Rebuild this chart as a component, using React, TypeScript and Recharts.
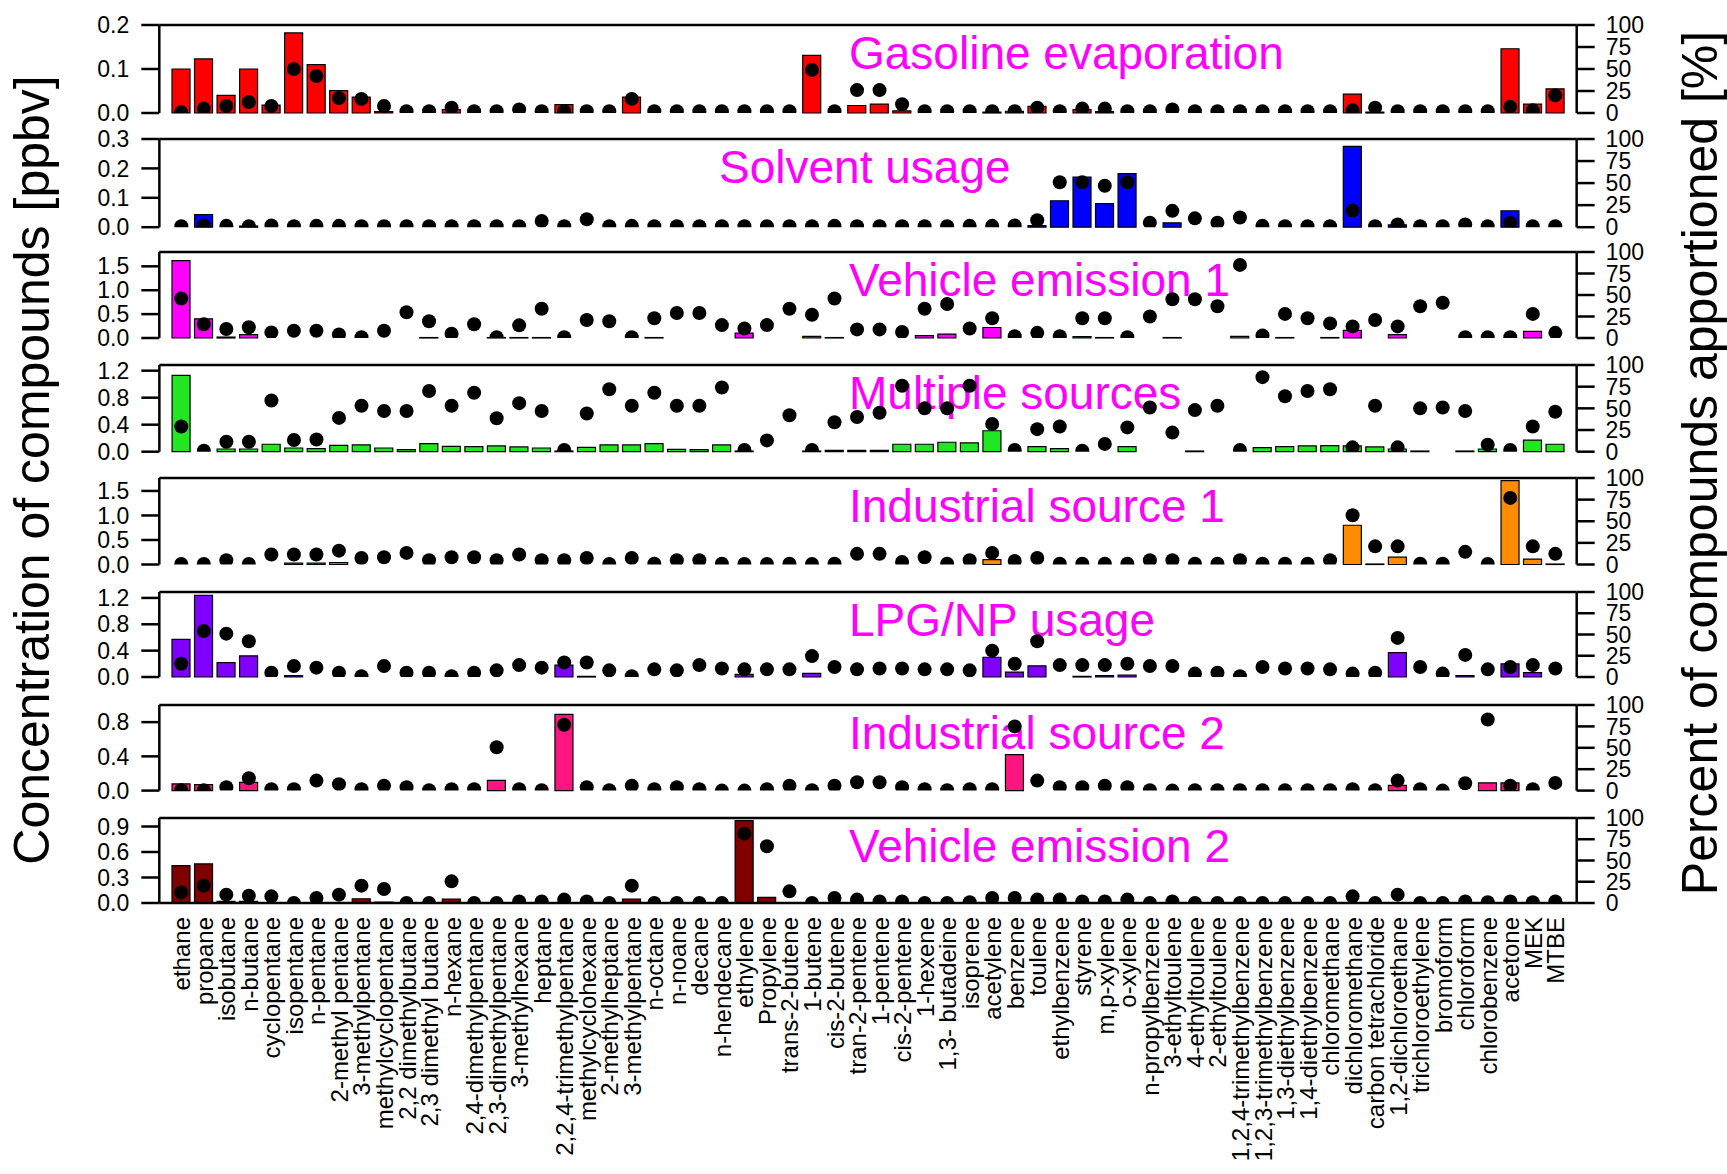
import React from 'react';
import { ComposedChart, Bar, Line, XAxis, YAxis, ReferenceLine } from 'recharts';

const FONT = '"Liberation Sans", Arial, Helvetica, sans-serif';

const compounds = [
  'ethane', 'propane', 'isobutane', 'n-butane', 'cyclopentane', 'isopentane', 'n-pentane',
  '2-methyl pentane', '3-methylpentane', 'methylcyclopentane', '2,2 dimethylbutane',
  '2,3 dimethyl butane', 'n-hexane', '2,4-dimethylpentane', '2,3-dimethylpentane',
  '3-methylhexane', 'heptane', '2,2,4-trimethylpentane', 'methylcyclohexane', '2-methylheptane',
  '3-methylpentane', 'n-octane', 'n-noane', 'decane', 'n-hendecane', 'ethylene', 'Propylene',
  'trans-2-butene', '1-butene', 'cis-2-butene', 'tran-2-pentene', '1-pentene', 'cis-2-pentene',
  '1-hexene', '1,3- butadeine', 'isoprene', 'acetylene', 'benzene', 'toulene', 'ethylbenzene',
  'styrene', 'm,p-xylene', 'o-xylene', 'n-propylbenzene', '3-ethyltoulene', '4-ethyltoulene',
  '2-ethyltoulene', '1,2,4-trimethylbenzene', '1,2,3-trimethylbenzene', '1,3-diethylbenzene',
  '1,4-diethylbenzene', 'chloromethane', 'dichloromethane', 'carbon tetrachloride',
  '1,2-dichloroethane', 'trichloroethylene', 'bromoform', 'chloroform', 'chlorobenzene',
  'acetone', 'MEK', 'MTBE',
];

// factor profiles: concentration [ppbv] and share of each compound [%]
const gasolineConc = [
  0.100, 0.123, 0.040, 0.100, 0.018, 0.182, 0.110, 0.051, 0.036, 0.003,
  0, 0, 0.008, 0, 0, 0, 0, 0.019, 0, 0,
  0.036, 0, 0, 0, 0, 0, 0, 0, 0.131, 0,
  0.017, 0.020, 0.005, 0, 0, 0, 0.002, 0.004, 0.015, 0,
  0.008, 0.003, 0, 0, 0, 0, 0, 0, 0, 0,
  0, 0, 0.043, 0.002, 0, 0, 0, 0, 0, 0.146,
  0.020, 0.055,
];
const gasolinePct = [
  1, 5, 8, 12.5, 8, 50, 42, 17, 16, 8,
  2, 2, 6, 2, 2, 4, 2, 2, 2, 2,
  16, 2, 2, 2, 2, 2, 2, 2, 49, 2,
  26, 26, 10, 2, 2, 2, 2, 2, 6, 2,
  5, 5, 2, 2, 4, 2, 2, 2, 2, 2,
  2, 2, 3, 6, 2, 2, 2, 2, 2, 7,
  3, 20,
];

const solventConc = [
  0, 0.043, 0, 0.004, 0, 0, 0, 0, 0, 0,
  0, 0, 0, 0, 0, 0, 0, 0, 0, 0,
  0, 0, 0, 0, 0, 0, 0, 0, 0, 0,
  0, 0, 0, 0, 0, 0, 0, 0, 0.005, 0.090,
  0.170, 0.080, 0.182, 0, 0.015, 0, 0, 0, 0, 0,
  0, 0, 0.275, 0, 0.008, 0, 0, 0, 0, 0.056,
  0, 0,
];
const solventPct = [
  1, 2, 1.5, 1, 2, 1, 1.5, 1.5, 1, 1,
  1, 1, 1, 1, 1, 1, 7, 1, 9, 1,
  1.5, 1, 1, 1, 1, 1, 1, 1, 1, 1.5,
  1, 1, 1, 1, 1, 1.5, 1.5, 2, 8, 51,
  51, 47, 51, 5, 18.5, 10, 5, 11, 1.5, 1,
  1, 1, 19, 1, 3, 1, 1, 3, 1, 5,
  1, 1,
];

const vehicle1Conc = [
  1.62, 0.40, 0.02, 0.07, 0, 0, 0, 0, 0, 0,
  0, 0.01, 0, 0, 0.01, 0.01, 0.01, 0, 0, 0,
  0, 0.01, 0, 0, 0, 0.10, 0, 0, 0.035, 0.01,
  0, 0, 0, 0.05, 0.08, 0, 0.22, 0, 0, 0,
  0.03, 0.01, 0, 0, 0.01, 0, 0, 0.035, 0, 0.01,
  0, 0.01, 0.16, 0, 0.07, 0, 0, 0, 0, 0,
  0.14, 0,
];
const vehicle1Pct = [
  46, 16, 10.5, 12.5, 6.5, 8.5, 8.5, 4, 1, 8.5,
  30, 19.5, 5, 16, 1, 14.7, 34, 1, 21, 19.5,
  1, 23, 29, 29, 15, 11, 15, 34, 27, 46,
  10, 10, 7, 34, 39.5, 11, 23, 2, 6, 2,
  23, 23, 1, 25, 45, 45, 37, 85, 3, 28,
  23, 17, 13.5, 21, 13.5, 37, 41, 1, 1, 1,
  28, 6,
];

const multipleConc = [
  1.13, 0, 0.04, 0.04, 0.11, 0.055, 0.045, 0.094, 0.10, 0.055,
  0.03, 0.12, 0.08, 0.075, 0.085, 0.07, 0.055, 0.01, 0.065, 0.10,
  0.10, 0.12, 0.035, 0.03, 0.10, 0.01, 0, 0, 0.01, 0.02,
  0.02, 0.02, 0.11, 0.11, 0.14, 0.13, 0.31, 0, 0.075, 0.045,
  0, 0, 0.075, 0, 0, 0.01, 0, 0, 0.06, 0.075,
  0.085, 0.09, 0.085, 0.07, 0.04, 0.01, 0, 0.01, 0.04, 0,
  0.17, 0.11,
];
const multiplePct = [
  29, 1, 11.5, 11.5, 59, 13.5, 14, 39, 53, 47,
  47, 70, 53, 68, 38.5, 56, 47, 2, 44, 72,
  53, 68, 53, 53, 74, 2, 13, 42, 2, 34,
  40, 45, 76, 50, 50, 76, 32, 2, 26, 29,
  1, 9, 28, 51, 22, 48, 53, 2, 86, 64,
  70, 72, 5, 53, 5, 50, 51, 47, 8, 2,
  29, 46,
];

const industrial1Conc = [
  0, 0, 0, 0, 0, 0.03, 0.03, 0.04, 0, 0,
  0, 0, 0, 0, 0, 0, 0, 0, 0, 0,
  0, 0, 0, 0, 0, 0, 0, 0, 0, 0,
  0, 0, 0, 0, 0, 0, 0.10, 0, 0, 0,
  0, 0, 0, 0, 0, 0, 0, 0, 0, 0,
  0, 0, 0.80, 0.01, 0.15, 0, 0, 0, 0, 1.71,
  0.11, 0.01,
];
const industrial1Pct = [
  0.5, 0.5, 5, 0.5, 11.5, 11.5, 11.5, 16, 7.5, 8.4,
  13.4, 5, 8.4, 8.4, 5, 11.5, 5, 5, 7.5, 0.5,
  7.5, 1, 5, 5, 1, 0.5, 0.5, 1, 0.5, 1,
  12.3, 12.3, 3, 8.4, 1, 5, 13.4, 4, 7.5, 1,
  1, 1, 1, 5, 5, 1, 1, 5, 1, 1,
  1, 5, 57, 21, 21, 1, 1, 14.6, 0.5, 77,
  21, 12.3,
];

const lpgConc = [
  0.57, 1.24, 0.217, 0.32, 0, 0.02, 0, 0, 0, 0,
  0, 0, 0, 0, 0, 0, 0, 0.18, 0.01, 0,
  0, 0, 0, 0, 0, 0.04, 0, 0, 0.055, 0,
  0, 0, 0, 0, 0, 0, 0.30, 0.075, 0.17, 0,
  0.01, 0.02, 0.03, 0, 0, 0, 0, 0, 0, 0,
  0, 0, 0, 0, 0.37, 0, 0, 0.02, 0, 0.20,
  0.065, 0,
];
const lpgPct = [
  15.6, 54, 51, 42, 5, 13, 11, 5, 1, 13,
  5, 5, 1, 5, 7.8, 14, 11, 17, 17, 7.8,
  1, 9, 7.8, 14, 10, 9, 9, 9, 24.6, 11.7,
  9, 10, 10, 9, 9, 7.8, 31, 15.6, 42, 14,
  14, 14, 15.6, 13, 13, 4, 5, 1, 11.7, 10,
  10, 9, 4, 5, 46, 11.7, 4, 26, 9, 11.7,
  14, 10,
];

const industrial2Conc = [
  0.078, 0.07, 0, 0.097, 0, 0, 0, 0, 0, 0,
  0, 0, 0, 0, 0.12, 0, 0, 0.89, 0, 0,
  0, 0, 0, 0, 0, 0, 0, 0, 0, 0,
  0, 0, 0, 0, 0, 0, 0, 0.42, 0, 0,
  0, 0, 0, 0, 0, 0, 0, 0, 0, 0,
  0, 0, 0, 0, 0.06, 0, 0, 0, 0.09, 0.09,
  0, 0,
];
const industrial2Pct = [
  0.5, 0.5, 4, 14.4, 1.7, 1.7, 11.7, 7.5, 1.7, 5.7,
  4, 0.5, 1.7, 1.7, 50.6, 1.7, 0.5, 77, 4, 0.5,
  5.7, 1.7, 4, 1.7, 0, 0, 1.7, 5.7, 0.5, 5.7,
  9.7, 9.7, 4, 1.7, 0.5, 1.7, 1.7, 75, 11.7, 4,
  4, 5.7, 4, 0.5, 0, 0.5, 0.5, 0.5, 0.5, 0.5,
  0.5, 0.5, 1.7, 0.5, 11.7, 1.7, 0, 8.6, 83, 5.7,
  1.7, 9,
];

const vehicle2Conc = [
  0.44, 0.46, 0.02, 0.02, 0, 0, 0, 0, 0.05, 0.01,
  0, 0, 0.047, 0, 0, 0, 0, 0, 0, 0,
  0.047, 0, 0, 0, 0, 0.97, 0.067, 0, 0, 0,
  0, 0, 0, 0, 0, 0, 0, 0, 0, 0,
  0, 0, 0, 0, 0, 0, 0, 0, 0, 0,
  0, 0, 0, 0, 0, 0, 0, 0, 0, 0,
  0, 0,
];
const vehicle2Pct = [
  12.5, 20.4, 9.8, 8.6, 7.8, 0, 6, 9.8, 20.4, 16.5,
  0, 0, 25.5, 0, 0, 1.7, 1.7, 4, 1.7, 0,
  20.4, 0, 0, 0, 0, 81.6, 66.7, 13.7, 0, 6,
  4, 1.7, 1.7, 0, 0, 1, 6, 6, 4, 4,
  1.7, 1.7, 4, 0, 1.7, 0, 0, 0, 0, 0,
  0, 0, 7.8, 0, 9.8, 0, 0, 1.7, 1, 1.7,
  1, 1.7,
];

const pctTicks = [0, 25, 50, 75, 100];

const panels = [
  { title: 'Gasoline evaporation', color: '#ff0000', max: 0.2, ticks: [0, 0.1, 0.2], conc: gasolineConc, pct: gasolinePct, top: 25.3, h: 88, titleX: 849 },
  { title: 'Solvent usage', color: '#0000ff', max: 0.3, ticks: [0, 0.1, 0.2, 0.3], conc: solventConc, pct: solventPct, top: 138.5, h: 88.2, titleX: 719 },
  { title: 'Vehicle emission 1', color: '#ff00ff', max: 1.8, ticks: [0, 0.5, 1.0, 1.5], conc: vehicle1Conc, pct: vehicle1Pct, top: 252, h: 86, titleX: 849 },
  { title: 'Multiple sources', color: '#22e622', max: 1.284, ticks: [0, 0.4, 0.8, 1.2], conc: multipleConc, pct: multiplePct, top: 365, h: 86.7, titleX: 849 },
  { title: 'Industrial source 1', color: '#ff8c00', max: 1.764, ticks: [0, 0.5, 1.0, 1.5], conc: industrial1Conc, pct: industrial1Pct, top: 477.5, h: 86.5, titleX: 849 },
  { title: 'LPG/NP usage', color: '#8000ff', max: 1.29, ticks: [0, 0.4, 0.8, 1.2], conc: lpgConc, pct: lpgPct, top: 592, h: 85, titleX: 849 },
  { title: 'Industrial source 2', color: '#ff1480', max: 1.0, ticks: [0, 0.4, 0.8], conc: industrial2Conc, pct: industrial2Pct, top: 704.7, h: 85.6, titleX: 849 },
  { title: 'Vehicle emission 2', color: '#800000', max: 1.0, ticks: [0, 0.3, 0.6, 0.9], conc: vehicle2Conc, pct: vehicle2Pct, top: 817.7, h: 85, titleX: 849 },
];

const WIDTH = 1727;
const PAD = 18;
const LABEL_H = 270;
const axisStroke = { stroke: '#000', strokeWidth: 2.5 };
const tickFont = { fill: '#000', fontSize: 23, fontFamily: FONT };

function CompoundTick({ x, y, payload }: any) {
  const tx = x + 9;
  const ty = y + 14;
  return (
    <text
      x={tx}
      y={ty}
      transform={`rotate(-90 ${tx} ${ty})`}
      textAnchor="end"
      fontSize={24}
      fontFamily={FONT}
      fill="#000"
    >
      {payload.value}
    </text>
  );
}

function Panel({ panel, last }: { panel: (typeof panels)[number]; last: boolean }) {
  const data = compounds.map((name, i) => ({ name, conc: panel.conc[i], pct: panel.pct[i] }));
  const bottom = last ? 0 : PAD;
  const height = PAD + panel.h + (last ? LABEL_H : bottom);
  return (
    <div style={{ position: 'absolute', left: 0, top: panel.top - PAD }}>
      <ComposedChart
        width={WIDTH}
        height={height}
        data={data}
        margin={{ top: PAD, right: 90.3, bottom, left: 99.3 }}
        barSize={18}
      >
        <XAxis
          dataKey="name"
          type="category"
          interval={0}
          padding={{ left: 10.7, right: 10.1 }}
          height={last ? LABEL_H : 0}
          axisLine={axisStroke}
          tickLine={false}
          tickSize={0}
          tickMargin={0}
          tick={last ? <CompoundTick /> : false}
        />
        <YAxis
          yAxisId="left"
          orientation="left"
          width={60}
          domain={[0, panel.max]}
          ticks={panel.ticks}
          interval={0}
          tickFormatter={(v: number) => v.toFixed(1)}
          axisLine={axisStroke}
          tickLine={axisStroke}
          tickSize={18}
          tickMargin={12}
          tick={tickFont}
        />
        <YAxis
          yAxisId="right"
          orientation="right"
          width={60}
          domain={[0, 100]}
          ticks={pctTicks}
          interval={0}
          allowDataOverflow
          axisLine={axisStroke}
          tickLine={axisStroke}
          tickSize={18}
          tickMargin={11}
          tick={tickFont}
        />
        <ReferenceLine yAxisId="left" y={panel.max} stroke="#000" strokeWidth={2.5} />
        <Bar
          yAxisId="left"
          dataKey="conc"
          fill={panel.color}
          stroke="#000"
          strokeWidth={1.2}
          isAnimationActive={false}
        />
        <Line
          yAxisId="right"
          dataKey="pct"
          stroke="none"
          dot={{ r: 7, fill: '#000', stroke: 'none' }}
          activeDot={false}
          isAnimationActive={false}
        />
      </ComposedChart>
    </div>
  );
}

export default function App() {
  return (
    <div
      style={{
        position: 'absolute',
        left: 0,
        top: 0,
        width: WIDTH,
        height: 1174,
        background: '#fff',
        overflow: 'hidden',
      }}
    >
      <svg width={WIDTH} height={1174} style={{ position: 'absolute', left: 0, top: 0 }}>
        <text
          x={49}
          y={470}
          transform="rotate(-90 49 470)"
          textAnchor="middle"
          fontSize={50}
          fontFamily={FONT}
          fill="#000"
        >
          Concentration of compounds [ppbv]
        </text>
        <text
          x={1717}
          y={463}
          transform="rotate(-90 1717 463)"
          textAnchor="middle"
          fontSize={50}
          fontFamily={FONT}
          fill="#000"
        >
          Percent of compounds apportioned [%]
        </text>
        {panels.map((p) => (
          <text key={p.title} x={p.titleX} y={p.top + 44} fontSize={46} fontFamily={FONT} fill="#ff00ff">
            {p.title}
          </text>
        ))}
      </svg>
      {panels.map((p, i) => (
        <Panel key={p.title} panel={p} last={i === panels.length - 1} />
      ))}
    </div>
  );
}
